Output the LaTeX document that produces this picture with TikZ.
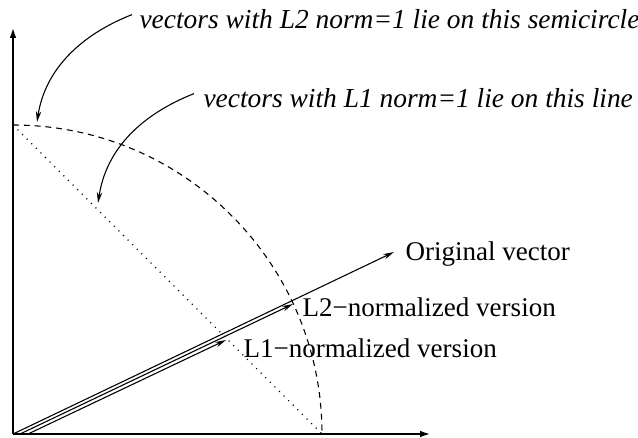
\documentclass[tikz,border=0pt]{standalone}
\usepackage{fontspec}
\setmainfont{Liberation Serif}
\usetikzlibrary{arrows.meta}

\begin{document}
\begin{tikzpicture}[x=0.013cm, y=-0.013cm, font=\fontsize{10}{12}\selectfont,
    axis/.style={line width=0.8pt, -{Latex[length=4pt,width=2.4pt]}},
    vec/.style={line width=0.4pt, -{Stealth[length=4pt,width=2pt]}},
    lbl/.style={anchor=base west, inner sep=0pt}]
    \useasboundingbox (0,0) rectangle (638,437);

    % Draw axes
    \coordinate (O) at (13,434);
    \draw[axis] (O) -- (13,27) coordinate (ytop);
    \draw[axis] (O) -- (431,434) coordinate (xend);

    % Unit circle (L2) and unit line (L1)
    \coordinate (ltop) at (13,125);
    \coordinate (lright) at (322,434);
    \draw[dash pattern=on 2.2pt off 1.8pt] (ltop) arc[start angle=-90, end angle=0, radius=309];
    \draw[dotted] (ltop) -- (lright);

    % Original vector and the two normalized versions
    \node[lbl] (orig) at (405,260) {Original vector};
    \node[lbl] (ltwo) at (302,316) {L2−normalized version};
    \node[lbl] (lone) at (243,357) {L1−normalized version};
    \draw[vec] (O) -- (394,252) coordinate (origtip);
    \draw[vec] (20,434) coordinate (ltwostart) -- (293,304) coordinate (ltwotip);
    \draw[vec] (28,434) coordinate (lonestart) -- (226,340) coordinate (lonetip);

    % Notes with curved arrows
    \node[lbl, font=\fontsize{10.15}{12}\selectfont\itshape] (notetwo) at (139,28)
        {vectors with L2 norm=1 lie on this semicircle};
    \node[lbl, font=\fontsize{10.15}{12}\selectfont\itshape] (noteone) at (203,107)
        {vectors with L1 norm=1 lie on this line};
    \coordinate (oncircle) at (37,122);
    \coordinate (online) at (98,203);
    \draw[vec] (notetwo.west) ++(-7,-4) .. controls (80,35) and (45,70) .. (oncircle);
    \draw[vec] (noteone.west) ++(-9,-4) .. controls (140,115) and (106,150) .. (online);
\end{tikzpicture}
\end{document}
